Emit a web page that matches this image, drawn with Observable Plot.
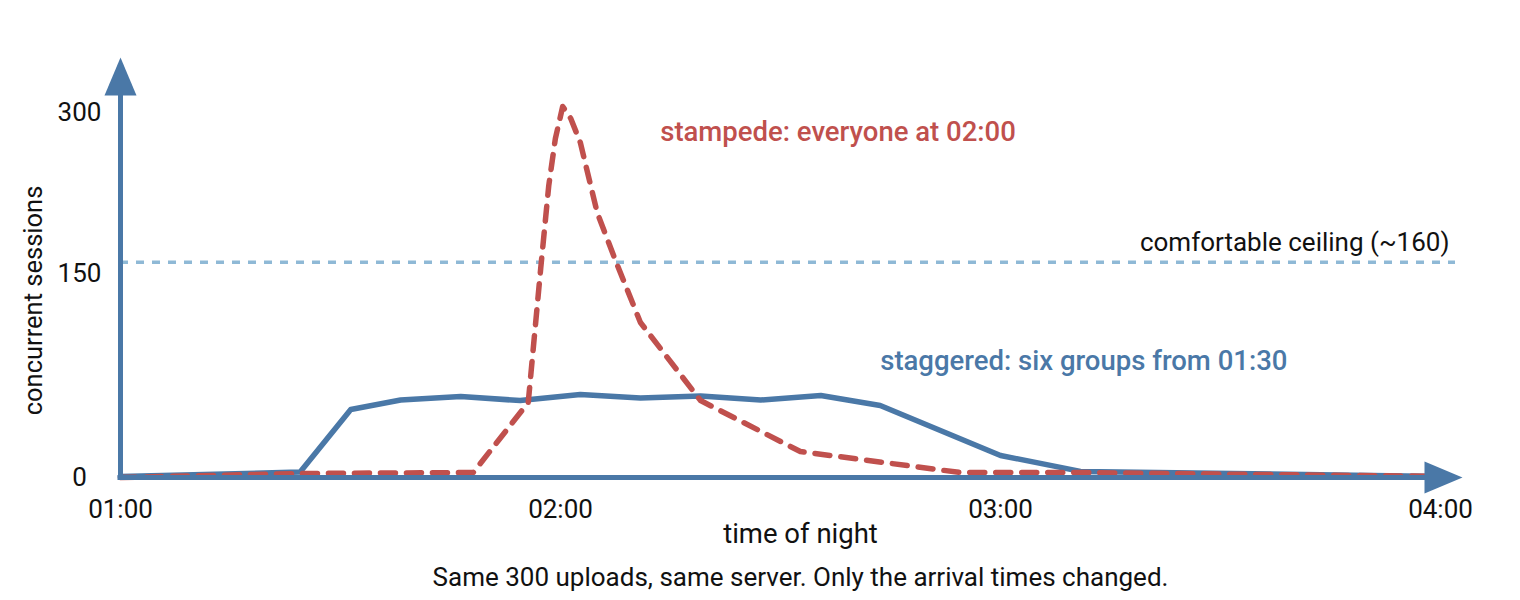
<!DOCTYPE html>
<html>
<head>
<meta charset="utf-8">
<script src="https://cdn.jsdelivr.net/npm/d3@7"></script>
<script src="https://cdn.jsdelivr.net/npm/@observablehq/plot@0.6"></script>
<style>
  html, body { margin: 0; padding: 0; background: #fff; }
  #chart svg { display: block; }
</style>
</head>
<body>
<div id="chart"></div>
<script>
// ---- data ----
const xTickLabels = ["01:00", "02:00", "03:00", "04:00"];
const yTicks = [0, 150, 300];

const staggeredTimes = ["01:00", "01:24:30", "01:31:24", "01:38:12", "01:46:24", "01:54:30", "02:02:42", "02:10:54", "02:19:06", "02:27:18", "02:35:30", "02:43:36", "03:00", "03:10:54", "04:00"];
const staggeredValues = [0.3, 2.0, 40.6, 47.4, 50.0, 47.0, 51.4, 48.9, 50.3, 47.4, 50.7, 43.4, 10.6, 2.3, 0.3];

const stampedeTimes = ["01:00", "01:24:30", "01:48:06", "01:55:36", "01:57:18", "01:58:24", "01:59:18", "02:00:18", "02:01:24", "02:02:42", "02:05", "02:07:30", "02:10:54", "02:19:06", "02:32:42", "02:54:30", "03:10:54", "04:00"];
const stampedeValues = [0, 1.4, 1.8, 45.6, 154.5, 230.0, 274.7, 305.9, 294.1, 270.9, 204.9, 161.5, 108.2, 47.0, 12.9, 1.8, 1.8, 0.3];

const ceiling = [160];
const ceilingLabel = ["comfortable ceiling (~160)"];

const annotLabels = ["stampede: everyone at 02:00", "staggered: six groups from 01:30"];
const annotTimes = ["02:13:36", "02:43:36"];
const annotValues = [281, 77];

const xLabel = "time of night";
const yLabel = "concurrent sessions";
const caption = "Same 300 uploads, same server. Only the arrival times changed.";

// ---- helpers ----
const parseT = s => new Date(`2024-01-01T${s.length === 5 ? s + ":00" : s}Z`);

const staggered = staggeredTimes.map((t, i) => ({time: parseT(t), value: staggeredValues[i]}));
const stampede = stampedeTimes.map((t, i) => ({time: parseT(t), value: stampedeValues[i]}));
const annots = annotLabels.map((l, i) => ({label: l, time: parseT(annotTimes[i]), value: annotValues[i]}));
const xTicks = xTickLabels.map(parseT);

const BLUE = "#4a78a7";
const RED = "#c0504d";
const LIGHT = "#8fb9d6";

const arrowHead = {
  draw(ctx) {
    ctx.moveTo(-16, 0);
    ctx.lineTo(16, 0);
    ctx.lineTo(0, -38);
    ctx.closePath();
  }
};

const chart = Plot.plot({
  width: 1520,
  height: 600,
  marginLeft: 120,
  marginRight: 80,
  marginTop: 95,
  marginBottom: 123,
  style: {fontFamily: "Roboto, sans-serif", color: "#111", background: "#fff"},
  x: {type: "utc", domain: [xTicks[0], xTicks[xTicks.length - 1]]},
  y: {type: "pow", exponent: 0.84, domain: [0, 316.7]},
  marks: [
    Plot.axisX(xTicks, {tickSize: 0, tickPadding: 22, tickFormat: d3.utcFormat("%H:%M"), fontSize: 26, label: null}),
    Plot.axisY(yTicks, {tickSize: 0, tickPadding: 41, textAnchor: "middle", fontSize: 26, label: null}),
    Plot.ruleY(ceiling, {stroke: LIGHT, strokeWidth: 3.5, strokeDasharray: "8,8", insetRight: -15}),
    Plot.text(ceilingLabel, {y: ceiling, frameAnchor: "right", textAnchor: "end", dx: 9, dy: -20, fontSize: 26, fill: "#111"}),
    Plot.line(staggered, {x: "time", y: "value", stroke: BLUE, strokeWidth: 5.5}),
    Plot.line(stampede, {x: "time", y: "value", stroke: RED, strokeWidth: 5.5, strokeDasharray: "15,11"}),
    Plot.ruleX([xTicks[0]], {stroke: BLUE, strokeWidth: 5}),
    Plot.ruleY([0], {stroke: BLUE, strokeWidth: 5, insetLeft: -2.5}),
    Plot.dot([0], {frameAnchor: "top-left", symbol: arrowHead, fill: BLUE, stroke: null}),
    Plot.dot([0], {frameAnchor: "bottom-right", symbol: arrowHead, fill: BLUE, stroke: null, rotate: 90, dx: -16}),
    Plot.text(annots, {x: "time", y: "value", text: "label", textAnchor: "start", fontSize: 27.5, fontWeight: 500, fill: (d, i) => i === 0 ? RED : BLUE}),
    Plot.text([yLabel], {frameAnchor: "left", textAnchor: "middle", rotate: -90, dx: -87, dy: 14, fontSize: 25.5, fill: "#111"}),
    Plot.text([xLabel], {frameAnchor: "bottom", lineAnchor: "middle", dx: 20, dy: 57, fontSize: 27.5, fill: "#111"}),
    Plot.text([caption], {frameAnchor: "bottom", lineAnchor: "middle", dx: 20, dy: 100, fontSize: 26, fill: "#111"})
  ]
});

document.getElementById("chart").append(chart);
</script>
</body>
</html>
